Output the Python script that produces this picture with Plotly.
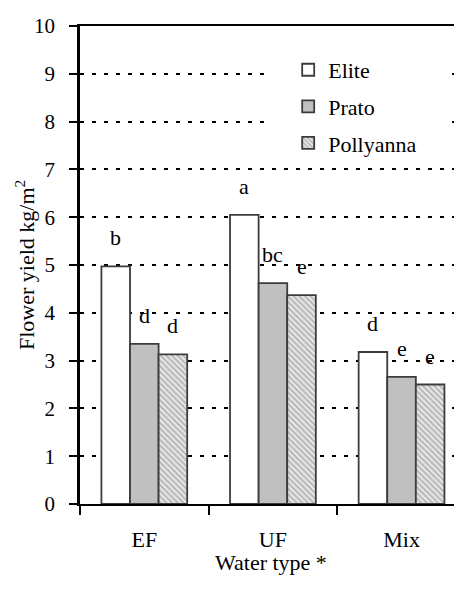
import plotly.graph_objects as go

categories = ["EF", "UF", "Mix"]
series_names = ["Elite", "Prato", "Pollyanna"]
elite = [4.97, 6.05, 3.18]
prato = [3.35, 4.62, 2.66]
pollyanna = [3.13, 4.37, 2.50]
letters_elite = ["b", "a", "d"]
letters_prato = ["d", "bc", "e"]
letters_pollyanna = ["d", "e", "e"]
y_ticks = [0, 1, 2, 3, 4, 5, 6, 7, 8, 9, 10]

FONT = "Liberation Serif, Times New Roman, serif"
EDGE = "#3c3c3c"

fig = go.Figure()
fig.add_trace(go.Bar(name=series_names[0], x=categories, y=elite,
                     marker=dict(color="white", line=dict(color=EDGE, width=1.8)),
                     legendgroup="g1"))
fig.add_trace(go.Bar(name=series_names[1], x=categories, y=prato,
                     marker=dict(color="#c0c0c0", line=dict(color=EDGE, width=1.8)),
                     legendgroup="g2"))
fig.add_trace(go.Bar(name=series_names[2], x=categories, y=pollyanna,
                     marker=dict(color="#e0e0e0", line=dict(color=EDGE, width=1.8),
                                 pattern=dict(shape="\\", fgcolor="#7a7a7a", bgcolor="#e6e6e6",
                                              size=4, solidity=0.4)),
                     legendgroup="g3"))

# significance letters
bar_w_px = 28.6
for vals, labs, shift in [(elite, letters_elite, -bar_w_px),
                          (prato, letters_prato, 0),
                          (pollyanna, letters_pollyanna, bar_w_px)]:
    for c, v, t in zip(categories, vals, labs):
        fig.add_annotation(x=c, y=v, text=t, showarrow=False, xshift=shift,
                           yanchor="bottom", yshift=14,
                           font=dict(family=FONT, size=22, color="black"))

# axis titles as annotations
fig.add_annotation(xref="paper", yref="paper", x=-0.144, y=0.5,
                   text="Flower yield kg/m<sup>2</sup>", textangle=-90,
                   showarrow=False, xanchor="center", yanchor="middle",
                   font=dict(family=FONT, size=22, color="black"))
fig.add_annotation(xref="paper", yref="paper", x=0.5, y=-0.123,
                   text="Water type *", showarrow=False,
                   xanchor="center", yanchor="middle",
                   font=dict(family=FONT, size=22, color="black"))

# white legend backdrop that interrupts the gridlines
fig.add_shape(type="rect", xref="paper", yref="paper",
              x0=0.487, x1=0.966, y0=0.72, y1=0.955,
              fillcolor="white", line=dict(width=0), layer="above")

# page has an 8px body margin, so the figure is offset by 8px
fig.update_layout(
    width=454, height=584,
    margin=dict(l=72, r=0, t=18, b=88),
    paper_bgcolor="white", plot_bgcolor="white",
    barmode="group", bargap=0.333, bargroupgap=0,
    font=dict(family=FONT, size=22, color="black"),
    showlegend=True,
    legend=dict(x=0.545, y=0.952, xanchor="left", yanchor="top",
                bgcolor="rgba(0,0,0,0)", tracegroupgap=5,
                font=dict(family=FONT, size=22, color="black")),
    xaxis=dict(type="category", range=[-0.5, 2.47],
               showline=True, linecolor="black", linewidth=2, mirror=True,
               ticks="outside", tickson="boundaries", ticklen=9, tickwidth=2,
               tickcolor="black", showgrid=False, zeroline=False,
               tickfont=dict(family=FONT, size=22, color="black"),
               ticklabelstandoff=15),
    yaxis=dict(range=[0, 10], tickvals=y_ticks,
               showline=True, linecolor="black", linewidth=2.5,
               ticks="outside", ticklen=8, tickwidth=2, tickcolor="black",
               showgrid=True, gridcolor="black", gridwidth=2, griddash="4px,8px",
               zeroline=False,
               tickfont=dict(family=FONT, size=21, color="black"),
               ticklabelstandoff=10),
)

fig.write_html("out.html")
